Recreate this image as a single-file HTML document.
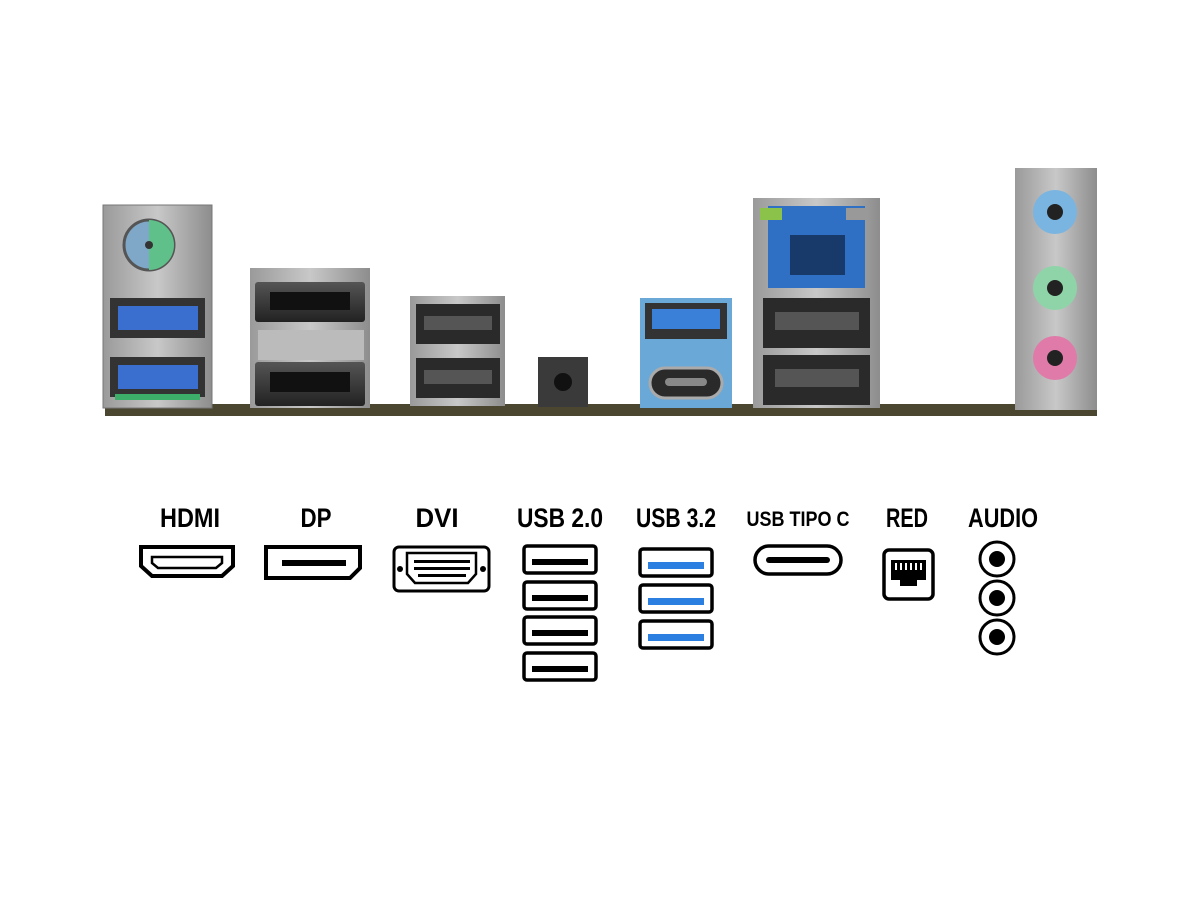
<!DOCTYPE html>
<html><head><meta charset="utf-8"><style>
html,body{margin:0;padding:0;background:#fff;width:1200px;height:900px;overflow:hidden}
svg{display:block}
text{font-family:"Liberation Sans Narrow","Liberation Sans",sans-serif;font-weight:bold;fill:#000;text-anchor:middle}
</style></head><body>
<svg width="1200" height="900" viewBox="0 0 1200 900" xmlns="http://www.w3.org/2000/svg">
<defs>
<linearGradient id="metal" x1="0" x2="1"><stop offset="0" stop-color="#9a9a9a"/><stop offset=".5" stop-color="#c8c8c8"/><stop offset="1" stop-color="#8d8d8d"/></linearGradient>
<linearGradient id="dark" x1="0" x2="0" y1="0" y2="1"><stop offset="0" stop-color="#555"/><stop offset="1" stop-color="#222"/></linearGradient>
</defs>
<!-- board strip -->
<rect x="105" y="404" width="992" height="12" fill="#4a4630"/>
<!-- PS2 + USB block -->
<rect x="103" y="205" width="109" height="203" fill="url(#metal)" stroke="#777"/>
<circle cx="149" cy="245" r="25" fill="#7fa8c8" stroke="#555" stroke-width="3"/>
<path d="M149 220 A25 25 0 0 1 149 270 Z" fill="#5fc08a"/>
<circle cx="149" cy="245" r="4" fill="#333"/>
<rect x="110" y="298" width="95" height="40" fill="#333"/><rect x="118" y="306" width="80" height="24" fill="#3a6fd0"/>
<rect x="110" y="357" width="95" height="40" fill="#333"/><rect x="118" y="365" width="80" height="24" fill="#3a6fd0"/>
<rect x="115" y="394" width="85" height="6" fill="#3cae6a"/>
<!-- DP / HDMI -->
<rect x="250" y="268" width="120" height="140" fill="url(#metal)"/>
<rect x="255" y="282" width="110" height="40" rx="3" fill="url(#dark)"/>
<rect x="270" y="292" width="80" height="18" fill="#111"/>
<rect x="258" y="330" width="106" height="30" fill="#bbb"/>
<rect x="255" y="362" width="110" height="44" rx="3" fill="url(#dark)"/>
<rect x="270" y="372" width="80" height="20" fill="#111"/>
<!-- USB 2.0 stack -->
<rect x="410" y="296" width="95" height="110" fill="url(#metal)"/>
<rect x="416" y="304" width="84" height="40" fill="#2a2a2a"/><rect x="424" y="316" width="68" height="14" fill="#555"/>
<rect x="416" y="358" width="84" height="40" fill="#2a2a2a"/><rect x="424" y="370" width="68" height="14" fill="#555"/>
<!-- button -->
<rect x="538" y="357" width="50" height="50" fill="#3a3a3a"/><circle cx="563" cy="382" r="9" fill="#111"/>
<!-- USB3 + type C -->
<rect x="640" y="298" width="92" height="110" fill="#6aa8d8"/>
<rect x="645" y="303" width="82" height="36" fill="#333"/><rect x="652" y="309" width="68" height="20" fill="#3a7fd8"/>
<rect x="650" y="368" width="72" height="30" rx="15" fill="#2a2a2a" stroke="#aaa" stroke-width="3"/>
<rect x="665" y="378" width="42" height="8" rx="4" fill="#888"/>
<!-- LAN + USB -->
<rect x="753" y="198" width="127" height="210" fill="url(#metal)"/>
<rect x="768" y="206" width="97" height="82" fill="#2f6fc4"/>
<rect x="790" y="235" width="55" height="40" fill="#173a6a"/>
<rect x="760" y="208" width="22" height="12" fill="#8bc34a"/><rect x="846" y="208" width="22" height="12" fill="#999"/>
<rect x="763" y="298" width="107" height="50" fill="#2a2a2a"/><rect x="775" y="312" width="84" height="18" fill="#555"/>
<rect x="763" y="355" width="107" height="50" fill="#2a2a2a"/><rect x="775" y="369" width="84" height="18" fill="#555"/>
<!-- audio -->
<rect x="1015" y="168" width="82" height="242" fill="url(#metal)"/>
<circle cx="1055" cy="212" r="22" fill="#7ab4e0"/><circle cx="1055" cy="212" r="8" fill="#222"/>
<circle cx="1055" cy="288" r="22" fill="#8fd4a8"/><circle cx="1055" cy="288" r="8" fill="#222"/>
<circle cx="1055" cy="358" r="22" fill="#e07aa8"/><circle cx="1055" cy="358" r="8" fill="#222"/>

<!-- labels -->
<g font-size="27">
<text x="190" y="527" textLength="60" lengthAdjust="spacingAndGlyphs">HDMI</text>
<text x="316" y="527" textLength="31" lengthAdjust="spacingAndGlyphs">DP</text>
<text x="437" y="527" textLength="43" lengthAdjust="spacingAndGlyphs">DVI</text>
<text x="560" y="527" textLength="86" lengthAdjust="spacingAndGlyphs">USB 2.0</text>
<text x="676" y="527" textLength="80" lengthAdjust="spacingAndGlyphs">USB 3.2</text>
<text x="907" y="527" textLength="42" lengthAdjust="spacingAndGlyphs">RED</text>
<text x="1003" y="527" textLength="70" lengthAdjust="spacingAndGlyphs">AUDIO</text>
</g>
<text x="798" y="526" font-size="21" textLength="103" lengthAdjust="spacingAndGlyphs">USB TIPO C</text>

<!-- icons -->
<path d="M141 547 H233 V566 L222 576 H152 L141 566 Z" fill="none" stroke="#000" stroke-width="4"/>
<path d="M152 557 H222 V563 L216 568 H158 L152 563 Z" fill="none" stroke="#000" stroke-width="2.5"/>
<path d="M266 547 H360 V568 L350 578 H266 Z" fill="none" stroke="#000" stroke-width="4"/>
<rect x="282" y="560" width="64" height="6" fill="#000"/>
<rect x="394" y="547" width="95" height="44" rx="5" fill="none" stroke="#000" stroke-width="3"/>
<path d="M407 553 H476 V574 L468 583 H415 L407 574 Z" fill="none" stroke="#000" stroke-width="2.5"/>
<circle cx="400" cy="569" r="3" fill="#000"/><circle cx="483" cy="569" r="3" fill="#000"/>
<g fill="#000"><rect x="414" y="560" width="56" height="3"/><rect x="414" y="567" width="56" height="3"/><rect x="418" y="574" width="48" height="3"/></g>
<g fill="none" stroke="#000" stroke-width="3.5">
<rect x="524" y="546" width="72" height="27" rx="3"/><rect x="524" y="582" width="72" height="27" rx="3"/>
<rect x="524" y="617" width="72" height="27" rx="3"/><rect x="524" y="653" width="72" height="27" rx="3"/>
<rect x="640" y="549" width="72" height="27" rx="3"/><rect x="640" y="585" width="72" height="27" rx="3"/><rect x="640" y="621" width="72" height="27" rx="3"/>
<rect x="755" y="546" width="86" height="28" rx="14"/>
<rect x="884" y="550" width="49" height="49" rx="5"/>
</g>
<g fill="#000"><rect x="532" y="559" width="56" height="6"/><rect x="532" y="595" width="56" height="6"/><rect x="532" y="630" width="56" height="6"/><rect x="532" y="666" width="56" height="6"/></g>
<g fill="#2b7fe0"><rect x="648" y="562" width="56" height="7"/><rect x="648" y="598" width="56" height="7"/><rect x="648" y="634" width="56" height="7"/></g>
<rect x="766" y="557" width="64" height="6" rx="3" fill="#000"/>
<path d="M891 560 H926 V580 H917 V586 H900 V580 H891 Z" fill="#000"/>
<g fill="#fff"><rect x="895" y="563" width="2" height="7"/><rect x="900" y="563" width="2" height="7"/><rect x="905" y="563" width="2" height="7"/><rect x="910" y="563" width="2" height="7"/><rect x="915" y="563" width="2" height="7"/><rect x="920" y="563" width="2" height="7"/></g>
<g fill="none" stroke="#000" stroke-width="3">
<circle cx="997" cy="559" r="17"/><circle cx="997" cy="598" r="17"/><circle cx="997" cy="637" r="17"/>
</g>
<g fill="#000"><circle cx="997" cy="559" r="8"/><circle cx="997" cy="598" r="8"/><circle cx="997" cy="637" r="8"/></g>
</svg>
</body></html>
